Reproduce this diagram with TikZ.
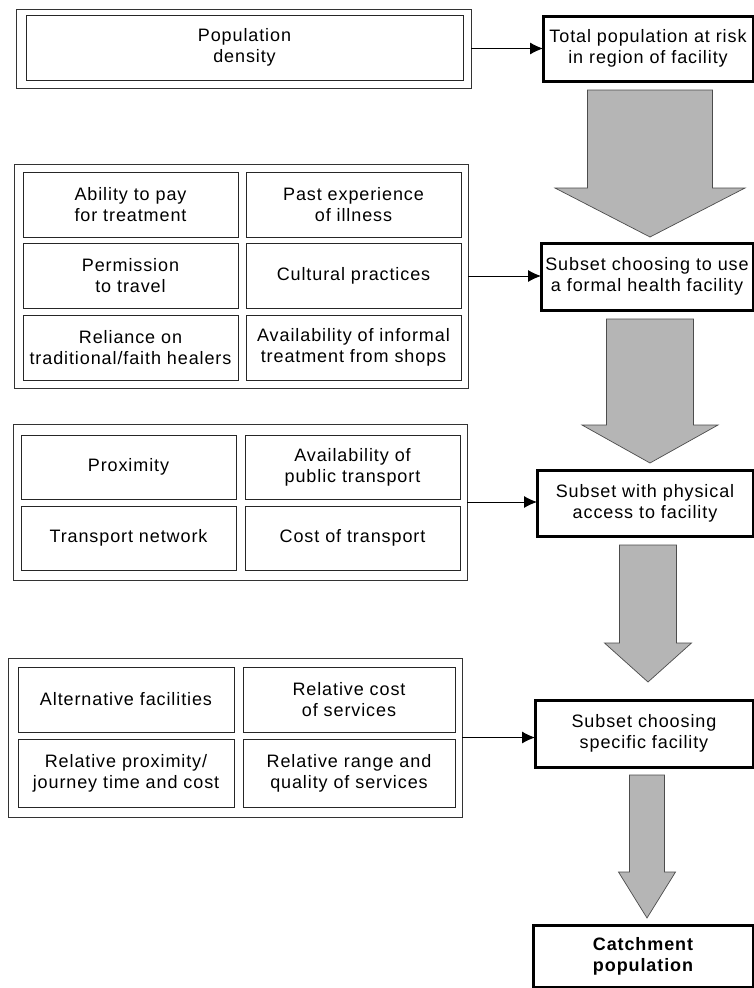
\documentclass[tikz,border=0pt]{standalone}
\usepackage{fontspec}
\setmainfont[LetterSpace=5]{Liberation Sans}
\usetikzlibrary{arrows.meta}
\newcommand\blockarrow[6]{%
  \draw[bigarrow] (#1-#5,#2) -- (#1+#5,#2) -- (#1+#5,#3) -- (#1+#6,#3) -- (#1,#4) -- (#1-#6,#3) -- (#1-#5,#3) -- cycle;}
\begin{document}
\begin{tikzpicture}[x=1pt,y=-1pt,
  font=\fontsize{18}{21}\selectfont,
  cell/.style={draw=black!85, line width=0.8pt, inner sep=0pt, outer sep=0pt, align=center},
  outerbox/.style={draw=black!80, line width=0.9pt, inner sep=0pt, outer sep=0pt},
  result/.style={draw=black, line width=3pt, inner sep=0pt, outer sep=0pt, align=center},
  conn/.style={-{Latex[length=13pt,width=12pt]}, line width=0.9pt},
  bigarrow/.style={fill=black!29, draw=black!70, line width=0.7pt}]
\useasboundingbox (0,0) rectangle (754,988);
\fill[white] (0,0) rectangle (754,988);

% ---------- block 1
\node[outerbox, minimum width=455pt, minimum height=79pt] (b1) at (243.5,48.5) {};
\node[cell, minimum width=437pt, minimum height=65pt] (c11) at (244.5,47.5) {Population\\density};

% ---------- block 2
\node[outerbox, minimum width=454pt, minimum height=224pt] (b2) at (241,276) {};
\node[cell, minimum width=215pt, minimum height=65pt] (c21) at (130.5,204.5) {Ability to pay\\for treatment};
\node[cell, minimum width=215pt, minimum height=65pt] (c22) at (353.5,204.5) {Past experience\\of illness};
\node[cell, minimum width=215pt, minimum height=65pt] (c23) at (130.5,275.5) {Permission\\to travel};
\node[cell, minimum width=215pt, minimum height=65pt] (c24) at (353.5,275.5) {Cultural practices};
\node[cell, minimum width=215pt, minimum height=65pt] (c25) at (130.5,347.5) {Reliance on\\traditional/faith healers};
\node[cell, minimum width=215pt, minimum height=65pt] (c26) at (353.5,347.5) {Availability of informal\\treatment from shops};

% ---------- block 3
\node[outerbox, minimum width=454pt, minimum height=156pt] (b3) at (240,502) {};
\node[cell, minimum width=215pt, minimum height=64pt] (c31) at (128.5,467) {Proximity};
\node[cell, minimum width=215pt, minimum height=64pt] (c32) at (352.5,467) {Availability of\\public transport};
\node[cell, minimum width=215pt, minimum height=64pt] (c33) at (128.5,538) {Transport network};
\node[cell, minimum width=215pt, minimum height=64pt] (c34) at (352.5,538) {Cost of transport};

% ---------- block 4
\node[outerbox, minimum width=454pt, minimum height=159pt] (b4) at (235,737.5) {};
\node[cell, minimum width=216pt, minimum height=65pt] (c41) at (126,699.5) {Alternative facilities};
\node[cell, minimum width=212pt, minimum height=65pt] (c42) at (349,699.5) {Relative cost\\of services};
\node[cell, minimum width=216pt, minimum height=68pt] (c43) at (126,773) {Relative proximity/\\journey time and cost};
\node[cell, minimum width=212pt, minimum height=68pt] (c44) at (349,773) {Relative range and\\quality of services};

% ---------- right column
\node[result, minimum width=210pt, minimum height=65pt] (r1) at (648,48.5) {Total population at risk\\in region of facility};
\node[result, minimum width=212pt, minimum height=67pt] (r2) at (647,276.5) {Subset choosing to use\\a formal health facility};
\node[result, minimum width=216pt, minimum height=66pt] (r3) at (645,503) {Subset with physical\\access to facility};
\node[result, minimum width=218pt, minimum height=67pt] (r4) at (644,733.5) {Subset choosing\\specific facility};
\node[result, minimum width=220pt, minimum height=62pt, font=\fontsize{18}{21}\selectfont\bfseries] (r5) at (643,956) {Catchment\\population};

% ---------- block arrows
\blockarrow{650}{90}{188}{237}{62.5}{95}
\blockarrow{650}{319}{425}{463}{43.5}{68}
\blockarrow{648}{545}{643}{682}{28.5}{43.5}
\blockarrow{647}{775}{872}{918}{17.5}{28.5}

% ---------- connectors
\draw[conn] (b1.east) -- (b1.east -| r1.west);
\draw[conn] (b2.east) -- (b2.east -| r2.west);
\draw[conn] (b3.east) -- (b3.east -| r3.west);
\draw[conn] (b4.east) -- (b4.east -| r4.west);
\end{tikzpicture}
\end{document}
